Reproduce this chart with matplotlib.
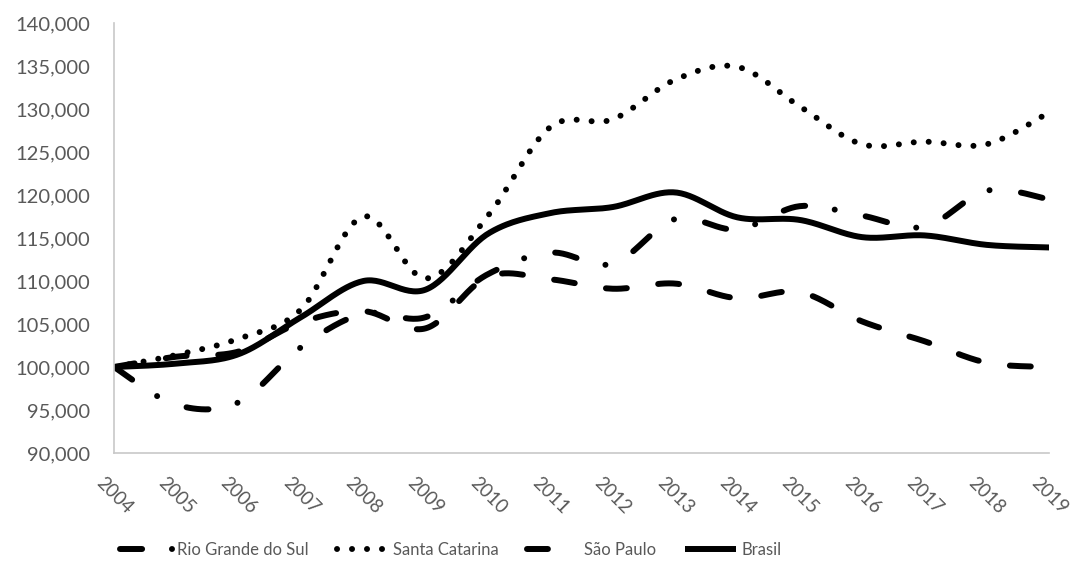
import numpy as np
import matplotlib
matplotlib.use("Agg")
import matplotlib.pyplot as plt
from matplotlib.ticker import FuncFormatter

# dados (índice, 2004 = 100.000)
anos = [str(a) for a in range(2004, 2020)]
rio_grande_do_sul = [100000, 95600, 95900, 102300, 106200, 105800, 110800, 113300,
                     112000, 117200, 116000, 118700, 117600, 116300, 120500, 119500]
santa_catarina = [100000, 101400, 103300, 106700, 117500, 110300, 117600, 127900,
                  128800, 133400, 134900, 130300, 125900, 126200, 125900, 129600]
sao_paulo = [100000, 101200, 101800, 105200, 106500, 104500, 110500, 110200,
             109100, 109700, 108000, 108700, 105300, 103000, 100500, 100000]
brasil = [100000, 100400, 101500, 105800, 110000, 109000, 115500, 117900,
          118600, 120300, 117400, 117100, 115100, 115300, 114200, 113900]

cinza = "#595959"
plt.rcParams["font.family"] = ["Lato", "DejaVu Sans"]


# linha suavizada (tipo Excel): curvas de Bezier com tangentes de Catmull-Rom
def suavizar(y, n=30):
    x = np.arange(len(y), dtype=float)
    y = np.asarray(y, dtype=float)
    xs, ys = [], []
    for i in range(len(y) - 1):
        i0, i3 = max(i - 1, 0), min(i + 2, len(y) - 1)
        p0 = np.array([x[i], y[i]])
        p3 = np.array([x[i + 1], y[i + 1]])
        c1 = p0 + (np.array([x[i + 1], y[i + 1]]) - np.array([x[i0], y[i0]])) / 6
        c2 = p3 - (np.array([x[i3], y[i3]]) - np.array([x[i], y[i]])) / 6
        t = np.linspace(0, 1, n, endpoint=(i == len(y) - 2))[:, None]
        pts = ((1 - t) ** 3) * p0 + 3 * ((1 - t) ** 2) * t * c1 + 3 * (1 - t) * t ** 2 * c2 + t ** 3 * p3
        xs.extend(pts[:, 0])
        ys.extend(pts[:, 1])
    return np.array(xs), np.array(ys)


fig = plt.figure(figsize=(10.86, 5.73), dpi=100)
ax = fig.add_axes([0.105, 0.2094, 0.861, 0.7505])

lw = 4.3
series = [
    ("Rio Grande do Sul", rio_grande_do_sul, (0, (3.7, 5.0, 0.01, 5.3))),
    ("Santa Catarina", santa_catarina, (0, (0.01, 2.5))),
    ("São Paulo", sao_paulo, (0, (3.5, 5.3))),
    ("Brasil", brasil, "-"),
]
for nome, valores, estilo in series:
    xs, ys = suavizar(valores)
    ax.plot(xs, ys, color="black", lw=lw, linestyle=estilo,
            dash_capstyle="round", solid_capstyle="butt", label=nome)

ax.set_xlim(0, len(anos) - 1)
ax.set_ylim(90000, 140000)
ax.set_yticks(np.arange(90000, 140001, 5000))
ax.yaxis.set_major_formatter(FuncFormatter(lambda v, p: f"{int(v):,}"))
ax.set_xticks(range(len(anos)))
ax.set_xticklabels(anos, rotation=-45, ha="center", va="top")

ax.tick_params(axis="both", length=0, labelcolor=cinza, labelsize=14.5)
ax.tick_params(axis="x", labelsize=13.5)
ax.tick_params(axis="y", pad=17)
ax.tick_params(axis="x", pad=15)
for lado in ["top", "right"]:
    ax.spines[lado].set_visible(False)
for lado in ["left", "bottom"]:
    ax.spines[lado].set_color("#C8C8C8")
    ax.spines[lado].set_linewidth(1.2)

leg = fig.legend(loc="lower center", bbox_to_anchor=(0.415, 0.0), ncol=4,
                 frameon=False, fontsize=12, handlelength=3.1, handletextpad=0.3,
                 columnspacing=1.7)
for t in leg.get_texts():
    t.set_color(cinza)

fig.savefig("out.png", dpi=100)
